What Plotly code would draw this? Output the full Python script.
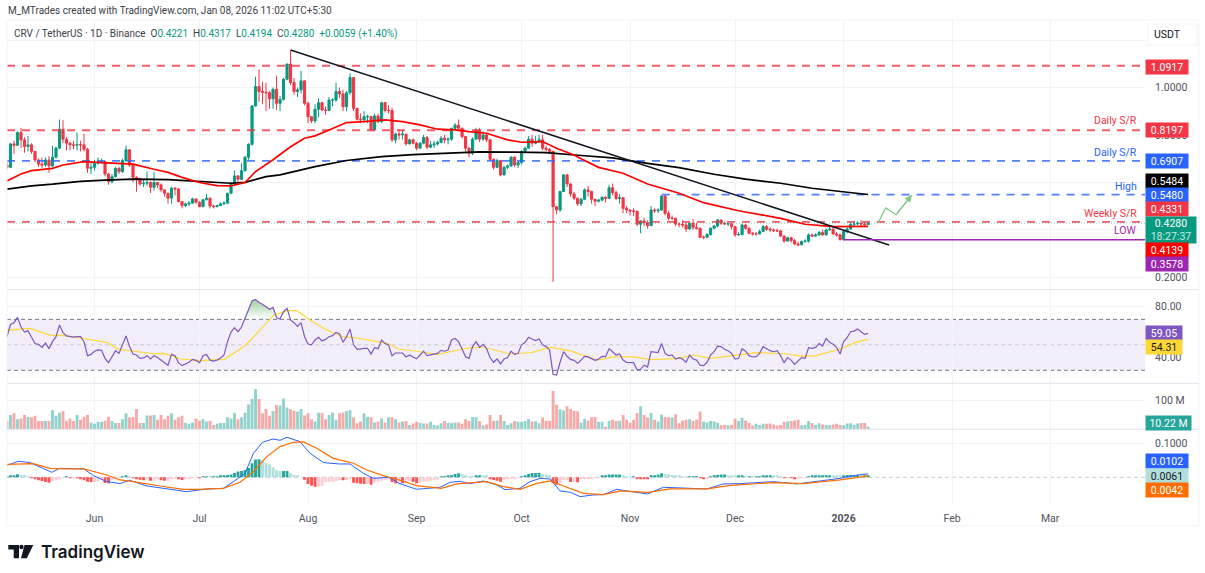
import numpy as np
import pandas as pd
import plotly.graph_objects as go

W, H = 1205, 573

first_open = 0.672
closes = [
    .663, .762, .756, .810, .779, .751, .758, .730, .694, .677,
    .673, .694, .669, .706, .744, .824, .782, .765, .758, .756,
    .759, .758, .739, .659, .663, .680, .687, .687, .635, .603,
    .624, .659, .645, .692, .737, .673, .621, .616, .593, .596,
    .599, .579, .599, .589, .568, .554, .533, .575, .572, .519,
    .502, .509, .512, .530, .516, .497, .526, .533, .500, .497,
    .502, .509, .512, .554, .596, .627, .613, .649, .706, .760,
    .922, 1.004, .983, .980, .978, .952, .992, .933, .950, 1.035,
    1.099, 1.021, .983, .990, 1.028, .933, .877, .859, .908, .936,
    .905, .903, .947, .947, .983, .973, .919, .978, 1.042, .912,
    .866, .863, .877, .877, .821, .880, .856, .936, .903, .903,
    .779, .804, .800, .803, .762, .779, .765, .744, .765, .789,
    .748, .758, .762, .768, .786, .779, .782, .828, .841, .828,
    .793, .744, .722, .782, .821, .782, .800, .779, .697, .663,
    .692, .631, .663, .669, .706, .673, .683, .730, .744, .782,
    .765, .772, .779, .744, .739, .730, .497, .483, .561, .631,
    .593, .551, .533, .509, .528, .568, .561, .528, .520, .525,
    .537, .532, .577, .556, .532, .535, .490, .483, .479, .478,
    .423, .437, .430, .417, .483, .480, .483, .542, .469, .448,
    .448, .424, .423, .420, .403, .427, .409, .406, .368, .368,
    .380, .406, .416, .441, .427, .424, .425, .413, .378, .380,
    .420, .406, .385, .382, .382, .392, .413, .402, .399, .396,
    .395, .373, .352, .366, .354, .340, .336, .350, .352, .378,
    .373, .378, .388, .378, .399, .402, .382, .378, .3578, .392,
    .403, .423, .424, .427, .424, .4221, .4280,
]
highs = [
    .69, .765, .775, .815, .83, .79, .795, .765, .73, .70,
    .705, .705, .71, .755, .75, .865, .862, .79, .77, .775,
    .81, .775, .805, .745, .68, .695, .705, .70, .69, .64,
    .635, .665, .665, .70, .755, .74, .675, .625, .62, .61,
    .645, .605, .645, .60, .595, .57, .555, .58, .58, .575,
    .52, .515, .52, .535, .53, .52, .53, .55, .535, .505,
    .505, .515, .52, .555, .60, .65, .63, .68, .71, .765,
    .925, 1.045, 1.077, 1.025, 1.02, .985, 1.0, 1.05, .965, 1.04,
    1.10, 1.158, 1.04, 1.0, 1.07, 1.03, .94, .88, .93, .955,
    .94, .92, .96, .955, 1.02, 1.0, .99, .985, 1.06, 1.04,
    .915, .89, .90, .885, .88, .89, .89, .94, .94, .925,
    .915, .81, .825, .82, .805, .785, .785, .77, .77, .80,
    .795, .775, .775, .775, .795, .80, .79, .83, .85, .865,
    .83, .795, .75, .79, .83, .83, .815, .81, .785, .70,
    .70, .695, .67, .675, .71, .71, .69, .735, .75, .795,
    .80, .795, .80, .80, .755, .745, .735, .50, .565, .635,
    .635, .595, .56, .535, .535, .575, .585, .565, .53, .53,
    .54, .54, .59, .595, .565, .55, .53, .50, .485, .49,
    .48, .44, .45, .44, .50, .49, .49, .545, .535, .48,
    .46, .45, .43, .44, .43, .43, .445, .43, .41, .375,
    .385, .41, .42, .445, .44, .435, .43, .43, .415, .39,
    .425, .425, .41, .39, .39, .40, .42, .42, .41, .405,
    .405, .40, .375, .37, .37, .36, .35, .355, .36, .385,
    .385, .385, .395, .40, .405, .415, .41, .39, .385, .395,
    .41, .43, .435, .436, .44, .432, .4317,
]
lows = [
    .655, .66, .72, .755, .745, .725, .73, .72, .685, .665,
    .66, .665, .64, .665, .70, .74, .765, .735, .735, .74,
    .735, .73, .73, .64, .635, .65, .675, .68, .625, .59,
    .595, .62, .635, .64, .685, .665, .60, .56, .585, .58,
    .585, .555, .565, .575, .56, .54, .51, .51, .545, .515,
    .49, .495, .50, .51, .51, .495, .495, .525, .49, .49,
    .495, .50, .505, .51, .55, .59, .60, .61, .645, .695,
    .755, .92, .94, .93, .90, .91, .91, .905, .90, .945,
    1.03, 1.01, .97, .96, .975, .925, .85, .85, .85, .875,
    .90, .885, .90, .92, .94, .955, .90, .90, .97, .90,
    .86, .85, .855, .85, .815, .815, .85, .85, .895, .89,
    .77, .765, .78, .78, .755, .76, .76, .735, .74, .76,
    .74, .745, .745, .755, .765, .765, .76, .775, .825, .825,
    .785, .73, .705, .715, .78, .77, .775, .77, .69, .655,
    .66, .625, .63, .655, .665, .665, .66, .675, .725, .745,
    .75, .76, .765, .735, .73, .72, .18, .465, .475, .56,
    .58, .54, .525, .50, .50, .525, .54, .51, .50, .515,
    .52, .515, .53, .545, .525, .51, .47, .47, .46, .458,
    .415, .385, .415, .405, .415, .47, .47, .48, .46, .44,
    .44, .415, .41, .41, .39, .40, .40, .40, .365, .36,
    .365, .375, .405, .41, .42, .42, .415, .40, .37, .375,
    .375, .40, .38, .375, .375, .38, .39, .395, .39, .39,
    .39, .37, .345, .35, .345, .335, .33, .335, .345, .345,
    .37, .37, .375, .375, .375, .395, .38, .37, .355, .355,
    .385, .40, .415, .42, .415, .41, .4194,
]

ma50_days = [0, 4, 7, 13, 16, 22, 27, 36, 42, 46, 50, 55, 60, 64, 68, 71, 76, 81, 85, 88,
             92, 97, 102, 108, 113, 118, 123, 128, 132, 137, 143, 147, 153, 157, 162, 164,
             169, 176, 183, 192, 199, 209, 221, 228, 236, 246]
ma50_vals = [.606, .635, .649, .659, .673, .687, .683, .677, .655, .642, .621, .599, .586, .585, .599, .645, .695, .750, .786, .796,
             .821, .852, .856, .863, .856, .842, .824, .821, .814, .807, .779, .769, .772, .744, .715, .699,
             .663, .638, .593, .554, .514, .480, .448, .423, .413, .4139]
ma200_days = [0, 7, 13, 21, 28, 36, 46, 55, 64, 68, 74, 78, 88, 97, 107, 116, 125, 135, 145, 154,
              164, 173, 183, 192, 202, 211, 221, 230, 240, 246]
ma200_vals = [.571, .585, .592, .604, .609, .613, .611, .603, .596, .600, .624, .631, .666, .692, .708, .717, .722, .728, .727, .725,
              .713, .703, .680, .662, .634, .613, .596, .575, .558, .5484]

trend_days = [81, 252]
trend_vals = [1.158, .3354]
plan_days = [249, 251, 254, 258.5]
plan_vals = [.4325, .4916, .4633, .5464]

level_vals = [1.0917, .8197, .6907, .5480, .4331]
level_colors = ["#F23645", "#F23645", "#2962FF", "#2962FF", "#F23645"]
level_start = [0, 0, 0, 187, 0]
low_val = .3578
low_start = 239

rsi = [
    56.4, 66, 67.4, 71.6, 64, 60, 61, 55.6, 51, 50.4, 48, 51.4, 47, 52.5, 56.4, 65.6, 59.5, 57, 56.4, 56,
    56.4, 56.4, 52.5, 41.5, 42.5, 45, 46, 45.7, 39.4, 36, 40.7, 45.4, 43.3, 51, 57, 48.6, 42.8, 42, 39.4, 39.7,
    41.5, 38.9, 41.5, 40, 38, 36.3, 34, 42.5, 41.5, 36, 33.7, 35, 36.3, 38.6, 37.8, 36, 41.5, 42.5, 38, 37.3,
    38, 39.7, 42, 52.5, 60, 63.5, 60.3, 64, 70.8, 78.6, 84.4, 85.7, 83.3, 81.8, 80, 78, 79.4, 71.3, 70.3, 76,
    78.6, 69.5, 67.4, 64.5, 67.4, 56.4, 50.6, 50, 53.8, 55.9, 53, 54.3, 56.4, 57.2, 59.8, 58.5, 52, 56.4, 62.4, 50,
    46.7, 46.7, 47.3, 47.3, 42.8, 47.8, 47, 53.8, 51, 50, 41.5, 43.6, 43.6, 43.6, 40.5, 42, 40.5, 39, 42, 45,
    41.5, 42.3, 42.5, 43.3, 45.7, 45, 46, 53.8, 55, 52.5, 46.7, 40.7, 39.4, 48.6, 52.5, 48, 50.4, 47, 40, 36.3,
    38.9, 35, 38.9, 40, 45, 42.5, 43.3, 50, 52, 55.9, 54.6, 53.3, 54.6, 50, 48.8, 46, 26.9, 26.3, 36.3, 44.6,
    41, 38.6, 37.8, 35.5, 38, 41, 40.5, 38.9, 37.8, 38.9, 41, 40.7, 47, 44.6, 42, 42.8, 38, 36.3, 36.3, 36,
    30.3, 30.8, 34, 32.6, 44.6, 44, 44, 51, 43.3, 41.5, 42, 38.9, 40, 38.9, 36.3, 42, 38.9, 38, 34, 33.7,
    36.3, 42, 44.6, 49, 48.6, 46.5, 45.4, 43.3, 38.9, 39.4, 47, 45, 41.5, 40.5, 40.7, 43.3, 48.6, 47, 45.4, 44.6,
    45.4, 41.5, 36, 40, 38, 34.7, 37.3, 40, 39.4, 47.8, 47.3, 48, 51, 49, 55, 52, 50.4, 48, 42.8, 52.5,
    55.6, 60.3, 60.8, 62.4, 60.3, 58.2, 59.05,
]
rsi_ma_days = [0, 6.6, 12.3, 16, 22, 28.5, 32, 36, 42, 45, 49.6, 55, 62, 64.7, 68, 72.3, 76, 80, 82.8, 86.6,
               91.3, 96, 101.8, 108.5, 112, 118, 122.8, 126.6, 131.3, 136, 143.7, 150, 155, 161, 168.5, 173.5,
               179, 184, 192, 196, 201, 207.5, 214, 222, 227, 231, 238, 243, 246]
rsi_ma_vals = [61.6, 62.9, 57.7, 57.2, 55, 52, 46.5, 45.2, 43, 43.3, 38.9, 37.6, 38.6, 43.3, 49.3, 61.6, 72.9, 76.8, 76.8, 69.5,
               61.6, 56.4, 54.6, 51.2, 46.7, 44.6, 42.5, 44.6, 47.3, 48.3, 42.8, 44, 48, 45.3, 38, 40.5,
               40.5, 38.4, 39.4, 42, 39.4, 41.5, 43.9, 43, 41.2, 41.5, 46.5, 52.5, 54.31]

volume_m = [
    29, 50, 56, 35, 38, 50, 43, 42, 47, 29, 29, 29, 29, 67, 47, 58, 64, 30, 38, 29,
    50, 33, 44, 50, 24, 19, 26, 26, 30, 44, 29, 22, 22, 35, 56, 42, 42, 71, 22, 22,
    48, 48, 50, 33, 50, 35, 47, 56, 33, 42, 47, 23, 19, 24, 38, 30, 35, 27, 29, 15,
    19, 22, 22, 42, 38, 57, 35, 42, 58, 87, 106, 141, 106, 56, 71, 47, 64, 85, 83, 108,
    76, 70, 65, 62, 71, 48, 56, 35, 27, 58, 57, 35, 50, 59, 33, 56, 59, 64, 67, 42,
    21, 27, 56, 44, 42, 24, 27, 38, 24, 41, 42, 35, 24, 27, 29, 15, 20, 26, 23, 20,
    20, 26, 15, 13,
    21, 29, 23, 22, 24, 24, 19, 35, 29, 43, 43, 29, 13, 17, 50, 29, 30, 50, 29, 15,
    21, 29, 26, 26, 29, 36, 27, 28, 21, 41, 30, 30, 134, 86, 70, 66, 81, 71, 65, 63,
    23, 36, 30, 42, 43, 26, 26, 9, 29, 33, 29, 30, 50, 33, 23, 33, 57, 81, 50, 41,
    57, 33, 27, 52, 43, 42, 41, 53, 21, 30, 33, 35, 29, 33, 62, 27, 24, 29, 27, 23,
    15, 15, 13, 15, 37, 29, 40, 31, 22, 13, 19, 15, 19, 19, 20, 17, 13, 15, 26, 27,
    29, 31, 33, 14, 15, 29, 22, 15, 21, 17, 15, 14, 17, 19, 15, 14, 20, 21, 16, 20,
    22, 22, 10.22,
]

macd_hist = [
    .001, .003, .005, .009, .007, .004, .002, -.001, -.005, -.009, -.011, -.014, -.016, -.010, -.008, -.003, -.001, .001, -.001, -.001,
    -.002, -.003, -.009, -.013, -.014, -.014, -.012, -.008, -.017, -.018, -.008, -.004, -.002, .001, .003, .002, -.001, -.004, -.007, -.009,
    -.006, -.010, -.007, -.006, -.009, -.010, -.010, -.004, -.003, -.006, -.008, -.006, -.003, -.001, 0, -.001, .001, .002, .001, .001,
    .002, .003, .004, .007, .008, .013, .017, .019, .022, .028, .042, .053, .054, .050, .043, .038, .030, .022, .019, .019,
    .019, .012, .007, .003, 0, -.007, -.020, -.025, -.028, -.028, -.025, -.015, -.014, -.013, -.012, -.008, -.009, -.008, -.004, -.016,
    -.018, -.019, -.020, -.020, -.022, -.016, -.014, -.010, -.008, -.004, -.014, -.018, -.014, -.018, -.018, -.012, -.014, -.018, -.017, -.013,
    -.013, -.010, -.008, -.007,
    .001, .002, .003, .006, .010, .012, .010, .006, .002, .001, .004, .006, .005, .003, -.003, -.008, -.010, -.013, -.008, -.006,
    -.004, -.003, -.002, .001, .005, .010, .013, .013, .013, .010, .008, .006,
    -.018, -.022, -.018, -.008, -.008, -.014, -.014, -.015, -.006, -.005, -.004, -.003, -.002, -.001, .003, .005, .008, .008, .008, .008,
    .003, .002, .001, .001, -.003, -.004, -.005, -.006, .003, .005, .008, .012, .010, .009, .007, .005, .003, .002, .001, .001,
    .001, .001, -.001, -.003, -.003, .001, .005, .007, .008, .008, .006, .004, .003, .003, .003, .002, .002, .001, .001, .001,
    .004, .004, .005, .004, .003, .001, -.001, -.001, -.002, -.003, -.003, -.001, -.001, .002, .003, .004, .006, .006, .006, .006,
    .005, .004, .003, .006, .007, .007, .007, .007, .006, .006, .0061,
]
macd_days = [0, 3.2, 6.6, 10, 12.8, 15, 22, 24.7, 28.5, 32.3, 35, 40, 45.6, 51.3, 57, 61.8, 64.7, 68, 70.4, 73,
             76, 78, 80, 83.7, 86.6, 90.4, 95, 98, 101.8, 104.7, 109, 112, 117, 123.7, 126.6, 129.4, 132.3, 136.1, 139.9, 142.3,
             146.6, 149.4, 152.3, 155.2, 158, 161, 163.7, 167.5, 170.4, 174.2, 177, 183, 187.5, 193, 200, 204.6, 209.5, 219, 225.6, 233,
             238, 243, 246]
macd_vals = [.0357, .0476, .0437, .0268, .0149, .0268, .0248, .005, -.0129, -.0188, -.0089, -.0258, -.0347, -.0427, -.0347, -.0327, -.0129, .0119, .0714, .1042,
             .1141, .1101, .119, .1062, .0714, .0437, .0397, .0397, .0119, -.003, 0, -.0179, -.0357, -.0298, -.0149, -.0119, -.0188, -.0109, -.0228, -.0367,
             -.0327, -.0129, -.003, -.005, -.0407, -.0446, -.0575, -.0526, -.0516, -.0357, -.0407, -.0496, -.0298, -.0317, -.0347, -.0198, -.0188, -.0129, -.0198, -.0099,
             -.003, .0069, .0102]
signal_days = [0, 7.5, 12.3, 16, 22, 28.5, 32.3, 36, 43.7, 50.4, 55, 61.8, 66.6, 70.4, 74.2, 78, 81.8, 84.7, 88.5, 93.2,
               99, 102.8, 107.5, 112, 117, 124, 128.5, 133.2, 137, 141.8, 146.6, 151.3, 155.2, 159, 164.7, 170.4, 175.2, 183, 189.4, 200,
               206.6, 219, 227.5, 238, 246]
signal_vals = [.0387, .0407, .0268, .0248, .0248, .0069, -.0079, -.0129, -.0258, -.0357, -.0357, -.0327, -.0149, .0169, .0615, .0913, .1042, .1052, .0863, .0565,
               .0417, .0218, .005, -.0079, -.0248, -.0327, -.0198, -.0159, -.0129, -.0278, -.0357, -.0179, -.0109, -.0258, -.0476, -.0516, -.0407, -.0446, -.0347, -.0347,
               -.0238, -.0159, -.0188, -.0079, .0042]

month_ticks = ["2025-06-01", "2025-07-01", "2025-08-01", "2025-09-01", "2025-10-01", "2025-11-01",
               "2025-12-01", "2026-01-01", "2026-02-01", "2026-03-01"]
month_labels = ["Jun", "Jul", "Aug", "Sep", "Oct", "Nov", "Dec", "<b>2026</b>", "Feb", "Mar"]

FONT = "Roboto"
UP, DOWN = "#089981", "#F23645"
GRID = "#F2F3F6"
SEP = "#E0E3EB"
start = pd.Timestamp("2025-05-07")


def day(offsets):
    return [start + pd.Timedelta(hours=float(d) * 24) for d in offsets]


def fx(x):
    return x / W


def fy(y):
    return 1 - y / H


dates = day(range(len(closes)))
opens = np.array([first_open] + closes[:-1])
c = np.array(closes)
h = np.maximum.reduce([np.array(highs), opens, c])
l = np.minimum.reduce([np.array(lows), opens, c])
end_date = start + pd.Timedelta(days=325.1)

fig = go.Figure()

# price pane
for val, col, s in zip(level_vals, level_colors, level_start):
    fig.add_trace(go.Scatter(x=[dates[s], end_date], y=[val, val], mode="lines", yaxis="y",
                             line=dict(color=col, width=1.8, dash="8px,7px"), opacity=.8, showlegend=False))
fig.add_trace(go.Scatter(x=[dates[0], end_date], y=[c[-1], c[-1]], mode="lines",
                         line=dict(color=UP, width=1, dash="1px,2px"), opacity=.5, showlegend=False))
fig.add_trace(go.Candlestick(x=dates, open=opens, high=h, low=l, close=c, whiskerwidth=0,
                             increasing=dict(line=dict(color=UP, width=1), fillcolor=UP),
                             decreasing=dict(line=dict(color=DOWN, width=1), fillcolor=DOWN),
                             showlegend=False))
fig.add_trace(go.Scatter(x=day(ma200_days), y=ma200_vals, mode="lines", line=dict(color="#000000", width=1.7), showlegend=False))
fig.add_trace(go.Scatter(x=day(ma50_days), y=ma50_vals, mode="lines", line=dict(color="#FF0000", width=1.7), showlegend=False))
fig.add_trace(go.Scatter(x=day(trend_days), y=trend_vals, mode="lines", line=dict(color="#131722", width=1.5), showlegend=False))
fig.add_trace(go.Scatter(x=[dates[low_start], end_date], y=[low_val, low_val], mode="lines",
                         line=dict(color="#9C27B0", width=1.5), showlegend=False))
fig.add_trace(go.Scatter(x=day(plan_days), y=plan_vals, mode="lines", line=dict(color="#81C784", width=1.2), showlegend=False))

# rsi pane
over = [i for i in range(68, 79)]
fig.add_trace(go.Scatter(x=[dates[i] for i in over], y=[70] * len(over), mode="lines", yaxis="y2",
                         line=dict(width=0), showlegend=False))
fig.add_trace(go.Scatter(x=[dates[i] for i in over], y=[rsi[i] for i in over], mode="lines", yaxis="y2",
                         line=dict(width=0), fill="tonexty",
                         fillgradient=dict(type="vertical", colorscale=[[0, "rgba(76,175,80,0)"], [1, "rgba(76,175,80,.55)"]]),
                         showlegend=False))
fig.add_trace(go.Scatter(x=day(rsi_ma_days), y=rsi_ma_vals, mode="lines", yaxis="y2",
                         line=dict(color="#FDD835", width=1.2), showlegend=False))
fig.add_trace(go.Scatter(x=dates, y=rsi, mode="lines", yaxis="y2",
                         line=dict(color="#7E57C2", width=1.2), showlegend=False))

# volume pane
vol_colors = ["rgba(38,166,154,.5)" if a >= b else "rgba(239,83,80,.5)" for a, b in zip(c, opens)]
fig.add_trace(go.Bar(x=dates, y=volume_m, yaxis="y3", marker=dict(color=vol_colors, line_width=0), showlegend=False))

# macd pane
hist_colors = []
prev = 0
for v in macd_hist:
    if v >= 0:
        hist_colors.append("#26A69A" if v >= prev else "#B2DFDB")
    else:
        hist_colors.append("#FFCDD2" if v >= prev else "#FF5252")
    prev = v
fig.add_trace(go.Bar(x=dates, y=macd_hist, yaxis="y4", marker=dict(color=hist_colors, line_width=0), showlegend=False))
fig.add_trace(go.Scatter(x=day(macd_days), y=macd_vals, mode="lines", yaxis="y4", line=dict(color="#2962FF", width=1), showlegend=False))
fig.add_trace(go.Scatter(x=day(signal_days), y=signal_vals, mode="lines", yaxis="y4", line=dict(color="#FF6D00", width=1.2), showlegend=False))


def yaxis(top, bottom, rng, vals, text):
    return dict(domain=[fy(bottom), fy(top)], range=rng, side="right", anchor="x", tickvals=vals, ticktext=text,
                showgrid=True, gridcolor=GRID, gridwidth=1, zeroline=False, showline=False, fixedrange=True,
                ticks="outside", ticklen=7, tickcolor="rgba(0,0,0,0)", tickfont=dict(family=FONT, size=10.5, color="#50535E"))


shapes = []


def hline(y, x0=7, x1=1199, color=SEP, width=1):
    shapes.append(dict(type="line", xref="paper", yref="paper", x0=fx(x0), x1=fx(x1), y0=fy(y), y1=fy(y),
                       line=dict(color=color, width=width), layer="above"))


hline(20, color="#F0F3FA")
hline(289.7)
hline(383.3)
hline(429.3)
hline(526, color="#F0F3FA")
for xp in (7, 1199):
    shapes.append(dict(type="line", xref="paper", yref="paper", x0=fx(xp), x1=fx(xp), y0=fy(20), y1=fy(526),
                       line=dict(color="#F0F3FA", width=1)))

# rsi band and its guides
shapes.append(dict(type="rect", xref="x", yref="y2", x0=dates[0], x1=end_date, y0=30, y1=70,
                   fillcolor="rgba(126,87,194,.1)", line_width=0, layer="below"))
for lvl, col in ((70, "#787B86"), (30, "#787B86"), (50, "#C9CAD0")):
    shapes.append(dict(type="line", xref="x", yref="y2", x0=dates[0], x1=end_date, y0=lvl, y1=lvl,
                       line=dict(color=col, width=1, dash="4px,3px"), layer="below"))
shapes.append(dict(type="line", xref="x", yref="y4", x0=dates[0], x1=end_date, y0=0, y1=0,
                   line=dict(color="#C9CAD0", width=1, dash="4px,3px"), layer="below"))

# unit button
shapes.append(dict(type="rect", xref="paper", yref="paper", x0=fx(1148), x1=fx(1197), y0=fy(45), y1=fy(24),
                   line=dict(color="#F0F3FA", width=1), fillcolor="#FFFFFF"))

# logo
pts = [(8.3, 545), (19, 545), (19, 558.3), (13.7, 558.3), (13.7, 549.5), (8.3, 549.5)]
shapes.append(dict(type="path", xref="paper", yref="paper", fillcolor="#131722", line_width=0,
                   path="M" + "L".join(f"{fx(a)},{fy(b)}" for a, b in pts) + "Z"))
pts = [(24.5, 545), (33.3, 545), (26.8, 558.3), (21, 558.3)]
shapes.append(dict(type="path", xref="paper", yref="paper", fillcolor="#131722", line_width=0,
                   path="M" + "L".join(f"{fx(a)},{fy(b)}" for a, b in pts) + "Z"))
shapes.append(dict(type="circle", xref="paper", yref="paper", fillcolor="#131722", line_width=0,
                   x0=fx(19.2), x1=fx(23.6), y0=fy(549.2), y1=fy(544.8)))

annotations = []


def text(x, y, s, color="#131722", size=10.5, anchor="left", family=FONT, weight=400, **kw):
    annotations.append(dict(xref="paper", yref="paper", x=fx(x), y=fy(y), text=s, showarrow=False, xanchor=anchor,
                            yanchor="middle", font=dict(family=family, size=size, color=color, weight=weight), borderpad=0, **kw))


def tag(y, s, bg, color="#FFFFFF", w=42, hgt=14):
    text(1145, y, s, color=color, bgcolor=bg, width=w, height=hgt, align="center")


text(7, 10.5, "M_MTrades created with TradingView.com, Jan 08, 2026 11:02 UTC+5:30", color="#3B3E47", size=10)
t = '<span style="color:#089981">'
text(13, 34, f'CRV / TetherUS · 1D · Binance  O{t}0.4221</span>  H{t}0.4317</span>  L{t}0.4194</span>  C{t}0.4280</span>  {t}+0.0059 (+1.40%)</span>',
     color="#3B3E47", size=10)
text(1167, 34.5, "USDT", anchor="center")

text(1138, 121, "Daily S/R", color="#F23645", anchor="right")
text(1138, 152, "Daily S/R", color="#2962FF", anchor="right")
text(1138, 186, "High", color="#2962FF", anchor="right")
text(1138, 213, "Weekly S/R", color="#F23645", anchor="right")
text(1138, 231, "LOW", color="#9C27B0", anchor="right")

tag(66.5, "1.0917", "#F23645")
tag(130, "0.8197", "#F23645")
tag(161, "0.6907", "#2962FF")
tag(181, "0.5484", "#000000")
tag(195.5, "0.5480", "#2962FF")
tag(209.5, "0.4331", "#F23645")
tag(230, '0.4280<br><span style="color:#C8EBE4">18:27:37</span>', "#089981", w=50, hgt=26)
tag(250, "0.4139", "#FF0000")
tag(264, "0.3578", "#9C27B0")
tag(332.5, "59.05", "#7E57C2", w=36)
tag(347, "54.31", "#FDD835", color="#131722", w=36)
tag(423, "10.22 M", "#26A69A", w=45)
tag(460.5, "0.0102", "#2962FF")
tag(476, "0.0061", "#B2DFDB", color="#131722")
tag(490, "0.0042", "#FF6D00")

text(39.5, 551.5, "TradingView", size=17, family="Inter", weight=600)

# arrow tip on the projected path
annotations.append(dict(x=day([plan_days[-1]])[0], y=plan_vals[-1], xref="x", yref="y", axref="x", ayref="y",
                        ax=day([plan_days[-2]])[0], ay=plan_vals[-2], text="", showarrow=True,
                        arrowcolor="#81C784", arrowhead=2, arrowwidth=1.2, arrowsize=1.2))

fig.update_layout(
    width=W, height=H, margin=dict(l=0, r=0, t=0, b=0, pad=0), autosize=False,
    paper_bgcolor="#FFFFFF", plot_bgcolor="#FFFFFF", barmode="overlay", bargap=.18, boxgap=.12, hovermode=False,
    xaxis=dict(domain=[fx(7), fx(1145)], range=[dates[0], end_date], anchor="y4", rangeslider=dict(visible=False),
               tickvals=month_ticks, ticktext=month_labels, showgrid=True, gridcolor=GRID, zeroline=False, showline=False,
               ticks="outside", ticklen=5, tickcolor="rgba(0,0,0,0)", tickangle=0, fixedrange=True,
               tickfont=dict(family=FONT, size=10.5, color="#50535E")),
    yaxis=yaxis(20, 289.7, [.1468, 1.2848], [.2, .4, .6, .8, 1.0, 1.2], ["0.2000", "", "", "0.8000", "1.0000", ""]),
    yaxis2=yaxis(289.7, 383.3, [19.8, 93.3], [40, 60, 80], ["40.00", "", "80.00"]),
    yaxis3=yaxis(383.3, 429.3, [0, 161], [100], ["100 M"]),
    yaxis4=yaxis(429.3, 503, [-.0765, .1429], [.1], ["0.1000"]),
    shapes=shapes, annotations=annotations, font=dict(family=FONT),
)

fig.write_html("out.html", config=dict(displayModeBar=False),
               post_script="document.body.style.margin='0';document.body.style.overflow='hidden';")
